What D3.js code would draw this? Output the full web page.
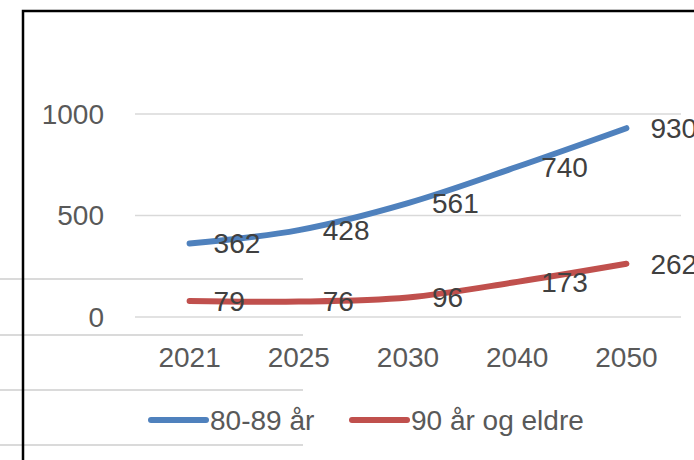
<!DOCTYPE html>
<html lang="no">
<head>
<meta charset="UTF-8">
<title>line</title>
<script src="https://cdn.jsdelivr.net/npm/d3@7"></script>
<style>
  body { margin: 0; background: #fff; }
  text { font-family: "Liberation Sans", Arial, sans-serif; }
</style>
</head>
<body>
<script>
let years = ['2021', '2025', '2030', '2040', '2050'];
let age8089 = [362, 428, 561, 740, 930];
let age90 = [79, 76, 96, 173, 262];
let yTicks = [0, 500, 1000];
let seriesNames = ['80-89 år', '90 år og eldre'];
let colors = ['#4f81bd', '#c0504d'];

let width = 694;
let height = 460;

let x = d3.scaleBand()
  .domain(years)
  .range([135, 681]);

let y = d3.scaleLinear()
  .domain([0, 1000])
  .range([317, 114]);

let svg = d3.select('body').append('svg')
  .attr('width', width)
  .attr('height', height);

// spreadsheet cell lines showing behind the chart
svg.selectAll('line.cell')
  .data([279, 335, 390, 445])
  .enter()
  .append('line')
  .attr('class', 'cell')
  .attr('x1', 0)
  .attr('x2', 303)
  .attr('y1', d => d)
  .attr('y2', d => d)
  .attr('stroke', '#dadada')
  .attr('stroke-width', 2);

// chart border
svg.append('path')
  .attr('d', 'M23,' + height + 'V11H' + width)
  .attr('fill', 'none')
  .attr('stroke', '#000')
  .attr('stroke-width', 2.5);

// gridlines
svg.append('g')
  .selectAll('line')
  .data(yTicks)
  .enter()
  .append('line')
  .attr('x1', 135)
  .attr('x2', 681)
  .attr('y1', d => y(d))
  .attr('y2', d => y(d))
  .attr('stroke', '#d9d9d9')
  .attr('stroke-width', 1.5);

// y axis labels
svg.append('g')
  .selectAll('text')
  .data(yTicks)
  .enter()
  .append('text')
  .attr('x', 104)
  .attr('y', d => y(d))
  .attr('dy', '0.35em')
  .attr('text-anchor', 'end')
  .attr('font-size', 28)
  .attr('fill', '#595959')
  .text(d => d);

// x axis labels
svg.append('g')
  .selectAll('text')
  .data(years)
  .enter()
  .append('text')
  .attr('x', d => x(d) + x.bandwidth() / 2)
  .attr('y', 357)
  .attr('dy', '0.35em')
  .attr('text-anchor', 'middle')
  .attr('font-size', 28)
  .attr('fill', '#595959')
  .text(d => d);

let line = d3.line()
  .x(d => x(d.year) + x.bandwidth() / 2)
  .y(d => y(d.value))
  .curve(d3.curveCatmullRom.alpha(0.5));

let series = [age8089, age90].map(function (vals, i) {
  return {
    name: seriesNames[i],
    color: colors[i],
    points: vals.map((v, j) => ({ year: years[j], value: v }))
  };
});

svg.selectAll('path.series')
  .data(series)
  .enter()
  .append('path')
  .attr('class', 'series')
  .attr('d', d => line(d.points))
  .attr('fill', 'none')
  .attr('stroke', d => d.color)
  .attr('stroke-width', 6)
  .attr('stroke-linecap', 'round')
  .attr('stroke-linejoin', 'round');

// data labels
series.forEach(function (s) {
  svg.append('g')
    .selectAll('text')
    .data(s.points)
    .enter()
    .append('text')
    .attr('x', d => x(d.year) + x.bandwidth() / 2 + 24)
    .attr('y', d => y(d.value))
    .attr('dy', '0.35em')
    .attr('font-size', 28)
    .attr('fill', '#404040')
    .text(d => d.value);
});

// legend
let legendX = [151, 352];
let legend = svg.selectAll('g.legend')
  .data(series)
  .enter()
  .append('g')
  .attr('class', 'legend')
  .attr('transform', (d, i) => 'translate(' + legendX[i] + ',420)');

legend.append('line')
  .attr('x1', 0)
  .attr('x2', 55)
  .attr('stroke', d => d.color)
  .attr('stroke-width', 6)
  .attr('stroke-linecap', 'round');

legend.append('text')
  .attr('x', 59)
  .attr('dy', '0.35em')
  .attr('font-size', 28)
  .attr('fill', '#595959')
  .text(d => d.name);
</script>
</body>
</html>
